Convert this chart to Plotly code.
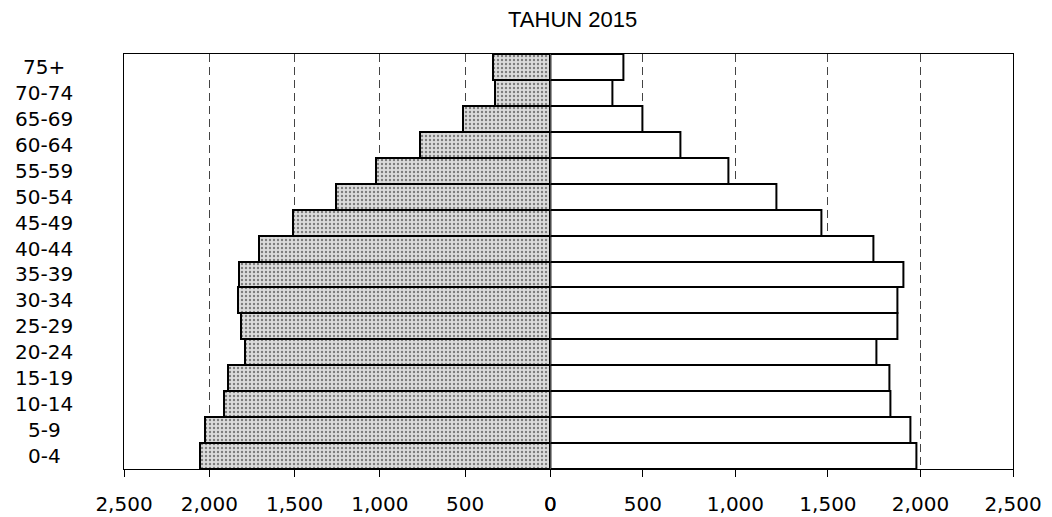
import plotly.graph_objects as go

# ---- data ----
age_groups = ["0-4", "5-9", "10-14", "15-19", "20-24", "25-29", "30-34", "35-39",
              "40-44", "45-49", "50-54", "55-59", "60-64", "65-69", "70-74", "75+"]
left_values = [2052, 2023, 1912, 1888, 1788, 1815, 1830, 1824,
               1708, 1511, 1256, 1022, 762, 511, 324, 339]
right_values = [1977, 1945, 1840, 1834, 1762, 1876, 1876, 1909,
                1747, 1467, 1220, 963, 704, 497, 335, 396]
tick_vals = [0, 500, 1000, 1500, 2000, 2500]
tick_text = ["0", "500", "1,000", "1,500", "2,000", "2,500"]
title_text = "TAHUN 2015"

# ---- layout constants ----
W, H = 1052, 517
ml, mr, mt, mb = 124.3, 38.7, 54.3, 47.7
plot_w = W - ml - mr
split = (550.7 - ml) / plot_w
lab_font = dict(family="DejaVu Sans", size=20, color="#000000")

fig = go.Figure()
fig.add_trace(go.Bar(
    y=age_groups, x=left_values, orientation="h", xaxis="x", yaxis="y",
    marker=dict(color="#d8d8d8",
                line=dict(color="#000000", width=2),
                pattern=dict(shape=".", fgcolor="#1e1e1e", bgcolor="#dcdcdc",
                             size=4, solidity=0.28, fillmode="overlay")),
    showlegend=False, name="L"))
fig.add_trace(go.Bar(
    y=age_groups, x=right_values, orientation="h", xaxis="x2", yaxis="y2",
    marker=dict(color="#ffffff", line=dict(color="#000000", width=2)),
    showlegend=False, name="P"))

common_x = dict(
    tickvals=tick_vals, ticktext=tick_text, ticks="outside", ticklen=7,
    tickwidth=1, tickcolor="#000000", showline=True, linecolor="#000000",
    linewidth=1, mirror=True, showgrid=True, gridcolor="#444444",
    gridwidth=1, griddash="8px,5px", zeroline=False, tickfont=lab_font,
    ticklabelstandoff=10, fixedrange=True, automargin=False,
)
common_y = dict(
    type="category", categoryorder="array", categoryarray=age_groups,
    range=[-0.5, len(age_groups) - 0.5], domain=[0, 1],
    showline=True, linecolor="#000000", linewidth=1,
    showticklabels=False, ticks="", showgrid=False, zeroline=False,
    fixedrange=True, automargin=False,
)
fig.update_layout(
    width=W, height=H,
    margin=dict(l=ml, r=mr, t=mt, b=mb, pad=0, autoexpand=False),
    paper_bgcolor="#ffffff", plot_bgcolor="#ffffff",
    bargap=0,
    title=dict(text=title_text, x=0.5047, xref="paper", xanchor="center",
               y=1 - 19.5 / H, yref="container", yanchor="middle",
               font=dict(family="Liberation Sans", size=22, color="#000000")),
    xaxis=dict(domain=[0, split], range=[2500, 0], anchor="y", **common_x),
    xaxis2=dict(domain=[split, 1], range=[0, 2500], anchor="y2", **common_x),
    yaxis=dict(anchor="x", **common_y),
    yaxis2=dict(anchor="x2", side="right", matches="y", **common_y),
)

for g in age_groups:
    fig.add_annotation(text=g, x=(44.6 - ml) / plot_w, xref="paper", xanchor="center",
                       y=g, yref="y", yanchor="middle", showarrow=False,
                       font=lab_font)

fig.write_html("out.html",
               config={"displayModeBar": False},
               post_script="document.body.style.margin='0';document.body.style.overflow='hidden';")
